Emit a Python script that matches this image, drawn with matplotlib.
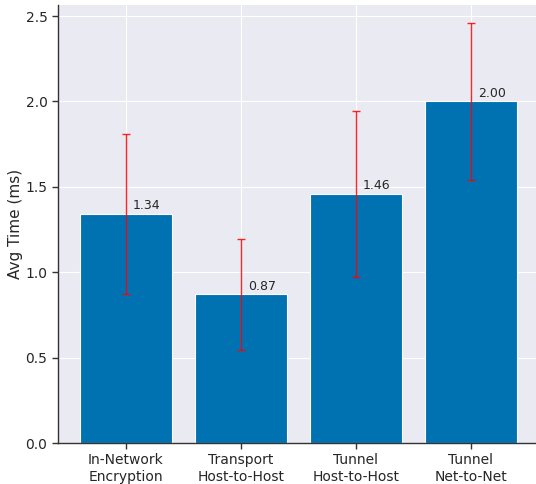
import matplotlib
matplotlib.use("Agg")
import matplotlib.pyplot as plt
import seaborn as sns
import numpy as np

# data
categories = ["In-Network\nEncryption", "Transport\nHost-to-Host", "Tunnel\nHost-to-Host", "Tunnel\nNet-to-Net"]
avg_time = [1.34, 0.87, 1.46, 2.00]
std_time = [0.47, 0.325, 0.485, 0.457]

sns.set_style("darkgrid")
plt.rcParams['font.family'] = ['DejaVu Sans']

fig = plt.figure(figsize=(5.36, 4.84), dpi=100)
ax = fig.add_axes([0.108, 0.0847, 0.892, 0.905])

x = np.arange(len(categories))
bars = ax.bar(x, avg_time, width=0.8, color="#0072B2", edgecolor="white", linewidth=0.8, zorder=2)
ax.errorbar(x, avg_time, yerr=std_time, fmt="none", ecolor="red", alpha=0.85,
            elinewidth=1, capsize=3, zorder=3)

for xi, v in zip(x, avg_time):
    ax.text(xi + 0.06, v + 0.01, "{:.2f}".format(v), ha="left", va="bottom", fontsize=9, color="#262626")

ax.set_xticks(x)
ax.set_xticklabels(categories, fontsize=10)
ax.set_ylabel("Avg Time (ms)", fontsize=11, labelpad=2)
ax.set_ylim(0, 2.565)
ax.set_xlim(-0.59, 3.565)
ax.set_yticks([0.0, 0.5, 1.0, 1.5, 2.0, 2.5])
ax.set_yticklabels(["0.0", "0.5", "1.0", "1.5", "2.0", "2.5"], fontsize=10)

for side in ["left", "bottom"]:
    ax.spines[side].set_visible(True)
    ax.spines[side].set_color("#333333")
    ax.spines[side].set_linewidth(1.0)
for side in ["top", "right"]:
    ax.spines[side].set_visible(False)
ax.tick_params(axis="both", which="major", length=4, width=1, color="#333333", left=True, bottom=True)

fig.savefig("out.png", dpi=100)
